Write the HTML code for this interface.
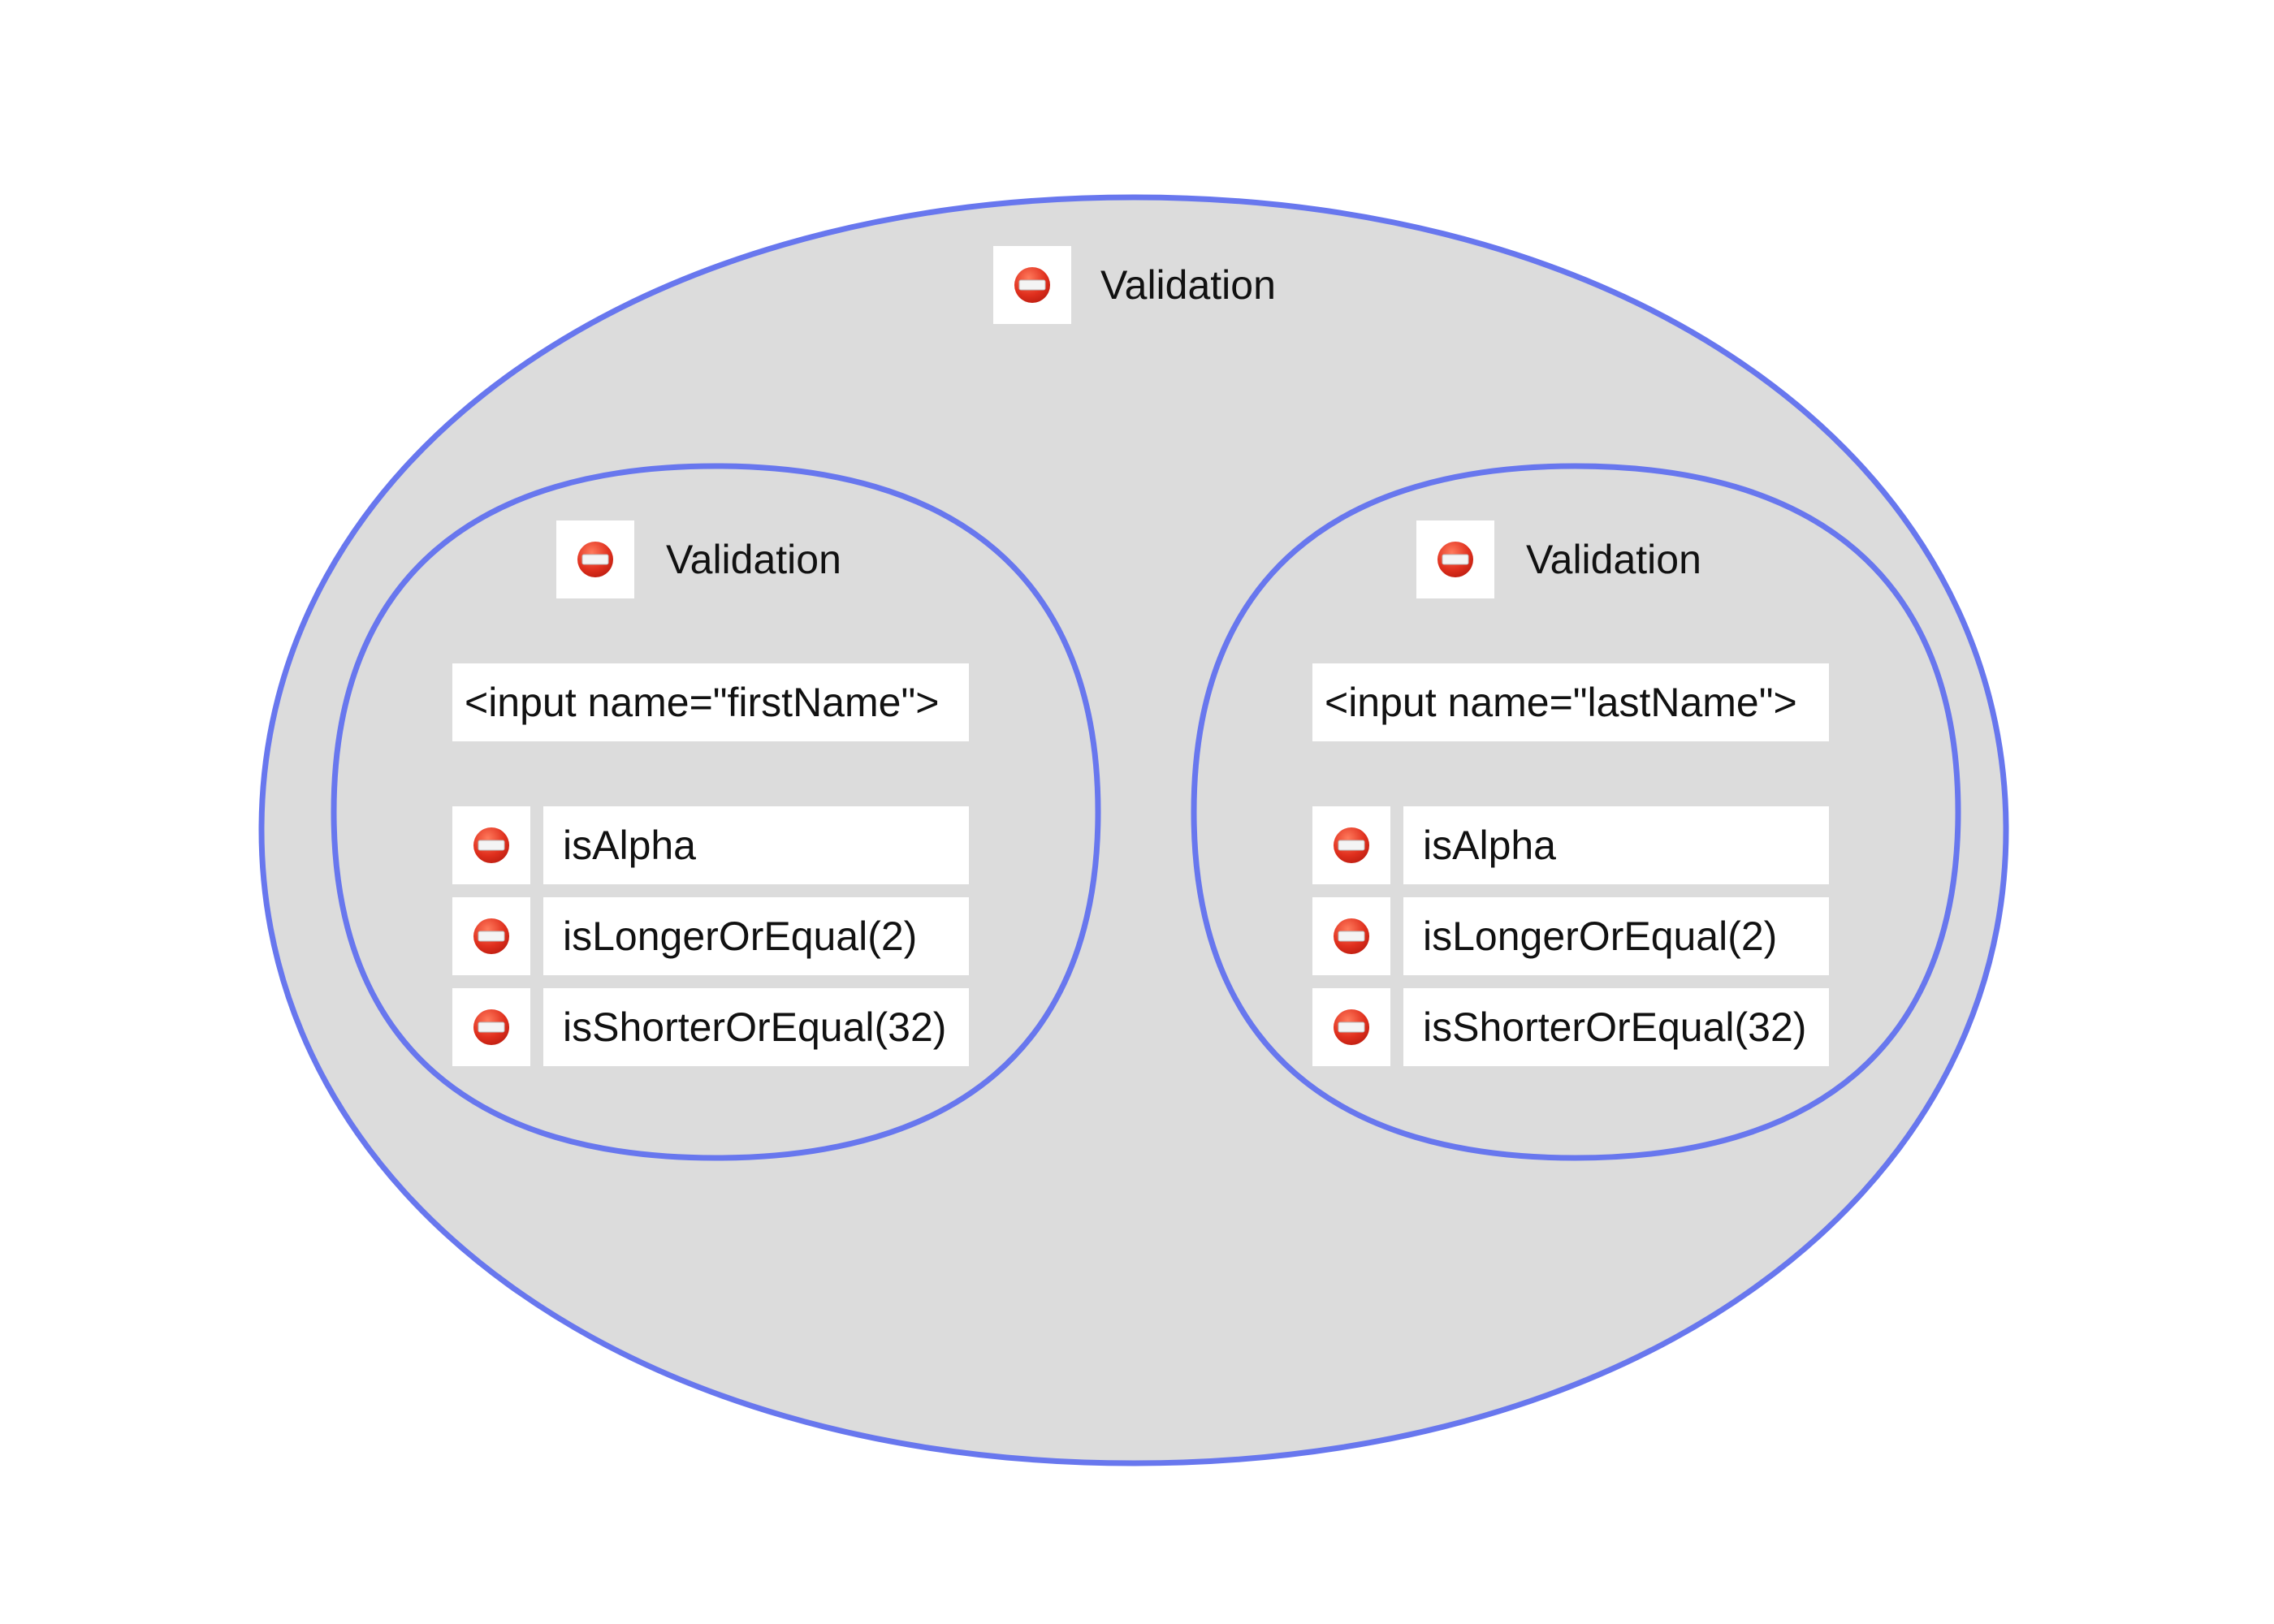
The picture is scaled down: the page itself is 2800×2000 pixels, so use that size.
<!DOCTYPE html>
<html><head><meta charset="utf-8"><style>html,body{margin:0;padding:0;background:#fff}svg{display:block}text{font-family:"Liberation Sans",sans-serif;font-size:50px;fill:#111}</style></head>
<body>
<svg width="2800" height="2000" viewBox="0 0 2800 2000" xmlns="http://www.w3.org/2000/svg">
<defs>
<radialGradient id="rg" cx="0.4" cy="0.3" r="0.8"><stop offset="0" stop-color="#ff7a5c"/><stop offset="0.6" stop-color="#e0301e"/><stop offset="1" stop-color="#b81a0e"/></radialGradient>
<g id="ic"><circle cx="0" cy="0" r="22" fill="url(#rg)"/><rect x="-16" y="-6" width="32" height="12" rx="2" fill="#f4f4f4" stroke="#bbb" stroke-width="1"/></g>
</defs>
<rect width="2800" height="2000" fill="#fff"/>
<path d="M1396,243 C2019,243 2470,570 2470,1022 C2470,1474 2019,1802 1396,1802 C773,1802 322,1474 322,1022 C322,570 773,243 1396,243Z" fill="#dcdcdc" stroke="#6877ee" stroke-width="7"/>
<path d="M881,574 C1173,574 1352,708 1352,1000 C1352,1292 1173,1426 881,1426 C589,1426 411,1292 411,1000 C411,708 589,574 881,574Z" fill="#dcdcdc" stroke="#6877ee" stroke-width="7"/>
<path d="M1940,574 C2232,574 2411,708 2411,1000 C2411,1292 2232,1426 1940,1426 C1648,1426 1470,1292 1470,1000 C1470,708 1648,574 1940,574Z" fill="#dcdcdc" stroke="#6877ee" stroke-width="7"/>

<rect x="1223" y="303" width="96" height="96" fill="#fff"/><use href="#ic" x="1271" y="351"/>
<text x="1355" y="351" dominant-baseline="central">Validation</text>

<g>
<rect x="685" y="641" width="96" height="96" fill="#fff"/><use href="#ic" x="733" y="689"/>
<text x="820" y="689" dominant-baseline="central">Validation</text>
<rect x="557" y="817" width="636" height="96" fill="#fff"/>
<text x="572" y="865" dominant-baseline="central">&lt;input name="firstName"&gt;</text>
<rect x="557" y="993" width="96" height="96" fill="#fff"/><use href="#ic" x="605" y="1041"/>
<rect x="669" y="993" width="524" height="96" fill="#fff"/><text x="693" y="1041" dominant-baseline="central">isAlpha</text>
<rect x="557" y="1105" width="96" height="96" fill="#fff"/><use href="#ic" x="605" y="1153"/>
<rect x="669" y="1105" width="524" height="96" fill="#fff"/><text x="693" y="1153" dominant-baseline="central">isLongerOrEqual(2)</text>
<rect x="557" y="1217" width="96" height="96" fill="#fff"/><use href="#ic" x="605" y="1265"/>
<rect x="669" y="1217" width="524" height="96" fill="#fff"/><text x="693" y="1265" dominant-baseline="central">isShorterOrEqual(32)</text>
</g>

<g transform="translate(1059,0)">
<rect x="685" y="641" width="96" height="96" fill="#fff"/><use href="#ic" x="733" y="689"/>
<text x="820" y="689" dominant-baseline="central">Validation</text>
<rect x="557" y="817" width="636" height="96" fill="#fff"/>
<text x="572" y="865" dominant-baseline="central">&lt;input name="lastName"&gt;</text>
<rect x="557" y="993" width="96" height="96" fill="#fff"/><use href="#ic" x="605" y="1041"/>
<rect x="669" y="993" width="524" height="96" fill="#fff"/><text x="693" y="1041" dominant-baseline="central">isAlpha</text>
<rect x="557" y="1105" width="96" height="96" fill="#fff"/><use href="#ic" x="605" y="1153"/>
<rect x="669" y="1105" width="524" height="96" fill="#fff"/><text x="693" y="1153" dominant-baseline="central">isLongerOrEqual(2)</text>
<rect x="557" y="1217" width="96" height="96" fill="#fff"/><use href="#ic" x="605" y="1265"/>
<rect x="669" y="1217" width="524" height="96" fill="#fff"/><text x="693" y="1265" dominant-baseline="central">isShorterOrEqual(32)</text>
</g>
</svg>
</body></html>
